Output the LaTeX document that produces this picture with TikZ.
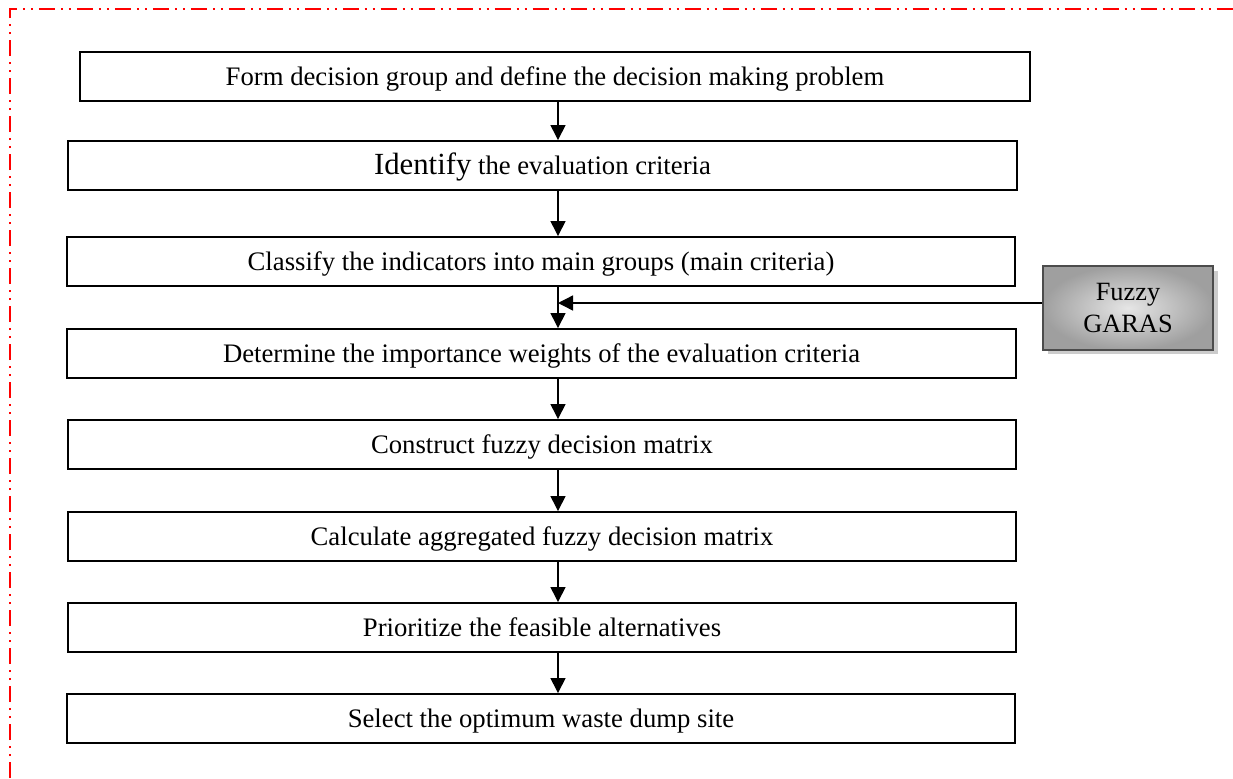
\documentclass[tikz,border=0pt]{standalone}
\usepackage{fontspec}
\setmainfont{Liberation Serif}
\usepackage{xcolor}
\usetikzlibrary{positioning, calc, arrows.meta, shadows}

\tikzset{
    stepbox/.style={draw, line width=1.1pt, minimum height=0.98cm, inner sep=0pt,
        text height=13pt, text depth=3pt,
        font=\fontsize{15.2}{18}\selectfont},
    flow/.style={line width=0.8pt, -{Triangle[width=0.3cm, length=0.3cm]}},
    toolbox/.style={draw=gray!60!black, line width=1.3pt, minimum width=3.4cm, minimum height=1.68cm,
        inner color=gray!20, outer color=gray!75, align=center,
        font=\fontsize{15}{18}\selectfont,
        drop shadow={shadow xshift=0.09cm, shadow yshift=-0.09cm, fill=gray!40, opacity=1}}
}

\begin{document}
\begin{tikzpicture}[x=0.02cm, y=-0.02cm]
        \useasboundingbox (0,0) rectangle (1233,778);

        % frame
        \draw[red, line width=1.1pt, dash pattern=on 0.32cm off 0.12cm on 0.04cm off 0.12cm on 0.04cm off 0.12cm]
            (10,778) -- (10,9) -- (1233,9);

        % steps
        \node[stepbox, minimum width=19cm] (form) at (555,76.5) {Form decision group and define the decision making problem};
        \node[stepbox, minimum width=18.98cm] (ident) at (542.5,165.5) {{\fontsize{17.5}{20}\selectfont Identify} the evaluation criteria};
        \node[stepbox, minimum width=18.96cm] (class) at (541,261.5) {Classify the indicators into main groups (main criteria)};
        \node[stepbox, minimum width=18.98cm] (weight) at (541.5,353.5) {Determine the importance weights of the evaluation criteria};
        \node[stepbox, minimum width=18.96cm] (matrix) at (542,444.5) {Construct fuzzy decision matrix};
        \node[stepbox, minimum width=18.96cm] (aggr) at (542,536.5) {Calculate aggregated fuzzy decision matrix};
        \node[stepbox, minimum width=18.96cm] (prior) at (542,627.5) {Prioritize the feasible alternatives};
        \node[stepbox, minimum width=18.96cm] (select) at (541,718.5) {Select the optimum waste dump site};

        \node[toolbox] (garas) at (1128,308) {Fuzzy\\GARAS};

        % arrows
        \coordinate (axis) at (558,0);
        \coordinate (feed) at ([yshift=0.1cm]garas.west);
        \draw[flow] (axis |- form.south) -- (axis |- ident.north);
        \draw[flow] (axis |- ident.south) -- (axis |- class.north);
        \draw[flow] (axis |- class.south) -- (axis |- weight.north);
        \draw[flow] (axis |- weight.south) -- (axis |- matrix.north);
        \draw[flow] (axis |- matrix.south) -- (axis |- aggr.north);
        \draw[flow] (axis |- aggr.south) -- (axis |- prior.north);
        \draw[flow] (axis |- prior.south) -- (axis |- select.north);
        \draw[flow] (feed) -- (axis |- feed);
    \end{tikzpicture}
\end{document}
